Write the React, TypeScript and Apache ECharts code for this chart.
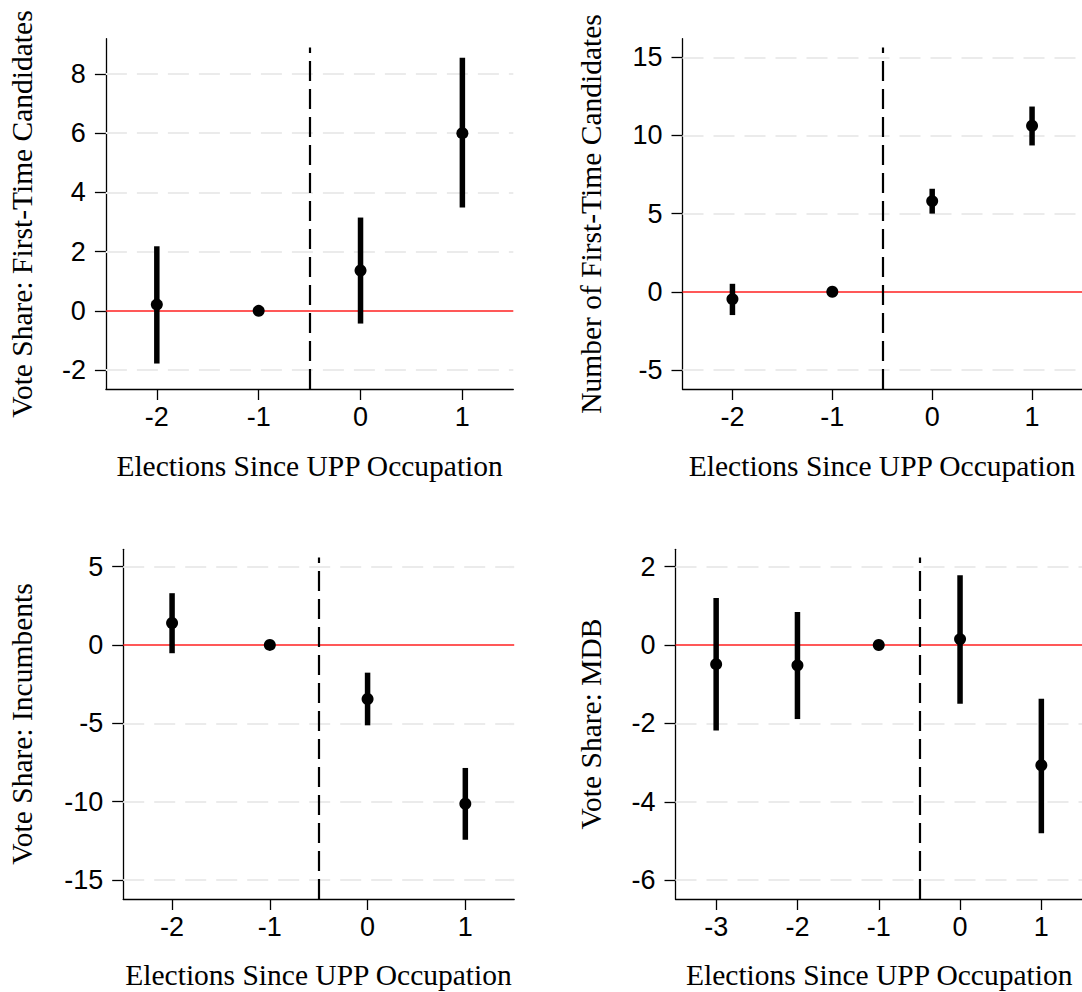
import React, { useEffect, useRef } from "react";
import * as echarts from "echarts";

// ---- Data ----
// Panel A: Vote Share: First-Time Candidates
const aX = [-2, -1, 0, 1];
const aEst = [0.21, 0, 1.36, 6.0];
const aLo = [-1.78, 0, -0.43, 3.49];
const aHi = [2.18, 0, 3.15, 8.55];
const aYTicks = [-2, 0, 2, 4, 6, 8];

// Panel B: Number of First-Time Candidates
const bX = [-2, -1, 0, 1];
const bEst = [-0.47, 0, 5.8, 10.62];
const bLo = [-1.49, 0, 5.0, 9.36];
const bHi = [0.51, 0, 6.59, 11.85];
const bYTicks = [-5, 0, 5, 10, 15];

// Panel C: Vote Share: Incumbents
const cX = [-2, -1, 0, 1];
const cEst = [1.4, 0, -3.45, -10.13];
const cLo = [-0.53, 0, -5.13, -12.43];
const cHi = [3.3, 0, -1.77, -7.85];
const cYTicks = [-15, -10, -5, 0, 5];

// Panel D: Vote Share: MDB
const dX = [-3, -2, -1, 0, 1];
const dEst = [-0.49, -0.52, 0, 0.15, -3.07];
const dLo = [-2.18, -1.89, 0, -1.5, -4.8];
const dHi = [1.2, 0.84, 0, 1.78, -1.37];
const dYTicks = [-6, -4, -2, 0, 2];

const xTitle = "Elections Since UPP Occupation";
const yTitles = [
  "Vote Share: First-Time Candidates",
  "Number of First-Time Candidates",
  "Vote Share: Incumbents",
  "Vote Share: MDB",
];
const treatmentLine = -0.5;

const SANS = '"Liberation Sans", Arial, sans-serif';
const SERIF = '"Liberation Serif", "Times New Roman", serif';

interface Panel {
  x: number[]; est: number[]; lo: number[]; hi: number[];
  yTicks: number[]; xMin: number; xMax: number; yMin: number; yMax: number;
  vTop: number;
  grid: { left: number; top: number; width: number; height: number };
  yTitlePos: [number, number]; xTitlePos: [number, number];
}

const panels: Panel[] = [
  { x: aX, est: aEst, lo: aLo, hi: aHi, yTicks: aYTicks, xMin: -2.5, xMax: 1.5, yMin: -2.64, yMax: 9.19, vTop: 8.89,
    grid: { left: 105.9, top: 38.7, width: 407.4, height: 350.3 }, yTitlePos: [21.7, 214], xTitlePos: [309.6, 465.5] },
  { x: bX, est: bEst, lo: bLo, hi: bHi, yTicks: bYTicks, xMin: -2.5, xMax: 1.5, yMin: -6.22, yMax: 16.19, vTop: 15.62,
    grid: { left: 682.5, top: 38.7, width: 400, height: 350.3 }, yTitlePos: [590.7, 214], xTitlePos: [882, 465.5] },
  { x: cX, est: cEst, lo: cLo, hi: cHi, yTicks: cYTicks, xMin: -2.5, xMax: 1.5, yMin: -16.21, yMax: 6.1, vTop: 5.57,
    grid: { left: 123.2, top: 549.3, width: 391, height: 349.7 }, yTitlePos: [22, 724], xTitlePos: [318.5, 974.5] },
  { x: dX, est: dEst, lo: dLo, hi: dHi, yTicks: dYTicks, xMin: -3.5, xMax: 1.5, yMin: -6.48, yMax: 2.44, vTop: 2.23,
    grid: { left: 675.5, top: 549.3, width: 407, height: 349.7 }, yTitlePos: [591, 724], xTitlePos: [879.2, 974.5] },
];

function buildOption() {
  const grid: any[] = [];
  const xAxis: any[] = [];
  const yAxis: any[] = [];
  const series: any[] = [];
  const graphic: any[] = [];

  panels.forEach((p, i) => {
    grid.push({ ...p.grid, containLabel: false });
    const xTicks = p.x;
    xAxis.push({
      type: "value", gridIndex: i, min: p.xMin, max: p.xMax,
      axisLine: { show: true, onZero: false, lineStyle: { color: "#000", width: 1.3 } },
      axisTick: { show: true, length: 11, customValues: xTicks, lineStyle: { color: "#000", width: 1.3 } },
      axisLabel: { show: true, customValues: xTicks, margin: 14, fontSize: 27, color: "#000", fontFamily: SANS },
      splitLine: { show: false },
    });
    yAxis.push({
      type: "value", gridIndex: i, min: p.yMin, max: p.yMax,
      axisLine: { show: true, onZero: false, lineStyle: { color: "#000", width: 1.3 } },
      axisTick: { show: true, length: 11, customValues: p.yTicks, lineStyle: { color: "#000", width: 1.3 } },
      axisLabel: { show: true, customValues: p.yTicks, margin: 20, fontSize: 27, color: "#000", fontFamily: SANS },
      splitLine: { show: false },
    });

    // reference lines (grid lines, zero line, treatment line)
    series.push({
      type: "line", xAxisIndex: i, yAxisIndex: i, data: [], z: 1, silent: true,
      markLine: {
        z: 1, silent: true, symbol: "none", animation: false,
        label: { show: false },
        data: [
          ...p.yTicks.filter((t) => t !== 0).map((t) => ({
            yAxis: t, lineStyle: { color: "#ebebeb", width: 2.2, type: [21, 10] },
          })),
          { yAxis: 0, lineStyle: { color: "#ff2020", width: 1.6, type: "solid" } },
          [
            { coord: [treatmentLine, p.yMin], lineStyle: { color: "#000", width: 2.2, type: [20, 8] } },
            { coord: [treatmentLine, p.vTop] },
          ],
        ],
      },
    });

    // confidence intervals
    const ciData = p.x.map((x, k) => [x, p.lo[k], p.hi[k]]);
    series.push({
      type: "custom", xAxisIndex: i, yAxisIndex: i, z: 3, silent: true,
      data: ciData,
      renderItem: (params: any, api: any) => {
        const a = api.coord([api.value(0), api.value(1)]);
        const b = api.coord([api.value(0), api.value(2)]);
        return {
          type: "line",
          shape: { x1: a[0], y1: a[1], x2: b[0], y2: b[1] },
          style: { stroke: "#000", lineWidth: 5.5, lineCap: "butt" },
        };
      },
    });

    // point estimates
    series.push({
      type: "scatter", xAxisIndex: i, yAxisIndex: i, z: 4, silent: true,
      symbol: "circle", symbolSize: 12,
      itemStyle: { color: "#000", opacity: 1 },
      data: p.x.map((x, k) => [x, p.est[k]]),
    });

    graphic.push({
      type: "text", x: p.xTitlePos[0], y: p.xTitlePos[1], silent: true,
      style: { text: xTitle, font: `29.5px ${SERIF}`, fill: "#000", textAlign: "center", textVerticalAlign: "middle" },
    });
    graphic.push({
      type: "text", x: p.yTitlePos[0], y: p.yTitlePos[1], rotation: Math.PI / 2, silent: true,
      style: { text: yTitles[i], font: `29.5px ${SERIF}`, fill: "#000", textAlign: "center", textVerticalAlign: "middle" },
    });
  });

  return {
    animation: false,
    backgroundColor: "#fff",
    grid, xAxis, yAxis, series, graphic,
  };
}

export default function App() {
  const ref = useRef<HTMLDivElement>(null);
  useEffect(() => {
    document.body.style.margin = "0";
    if (!ref.current) return;
    const chart = echarts.init(ref.current, null, { renderer: "svg" });
    chart.setOption(buildOption() as any);
    return () => chart.dispose();
  }, []);
  return <div ref={ref} style={{ width: 1082, height: 992 }} />;
}
